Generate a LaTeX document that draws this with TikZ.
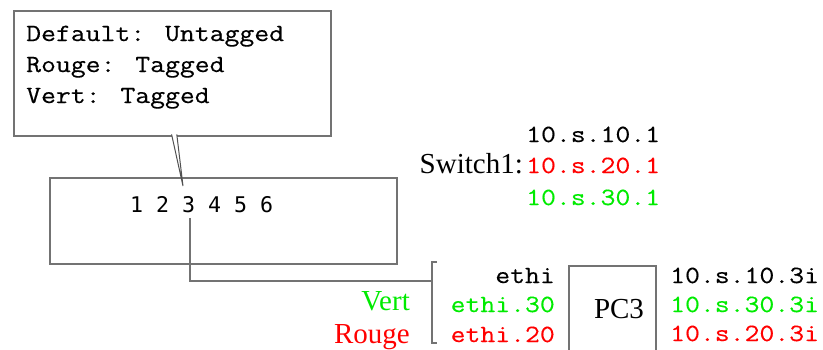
\documentclass[tikz,border=0pt]{standalone}
\usepackage{fontspec}
\setmainfont{Liberation Serif}
\newfontfamily\cour[FakeStretch=1.165,FakeBold=0.35]{Latin Modern Mono}
\newfontfamily\dmono{DejaVu Sans Mono}
\definecolor{vred}{RGB}{255,0,0}
\definecolor{vgreen}{RGB}{0,235,0}
\definecolor{edge}{RGB}{115,115,115}
\begin{document}
\begin{tikzpicture}[x=1pt,y=-1pt,
  mono/.style={font=\cour\fontsize{24.8}{31}\selectfont, inner sep=0pt},
  serif/.style={font=\fontsize{29}{34}\selectfont, inner sep=0pt},
  box/.style={draw=edge, line width=1.5pt, inner sep=0pt},
  wire/.style={draw=edge, line width=1.4pt}]
\useasboundingbox (0,0) rectangle (823,349);

% callout with VLAN modes of port 3
\node[box, fill=white, minimum width=317, minimum height=125, anchor=north west] (callout) at (13,10) {};
\node[mono, anchor=base west] (deflt) at (26,41) {Default: Untagged};
\node[mono, anchor=base west] (rouge) at (26,72) {Rouge: Tagged};
\node[mono, anchor=base west] (vert) at (26,103) {Vert: Tagged};

% switch body
\node[box, minimum width=347, minimum height=86, anchor=north west] (switch) at (49,177) {};
\node[font=\dmono\fontsize{21.6}{26}\selectfont, inner sep=0pt, anchor=base west] (ports) at (130,212) {1 2 3 4 5 6};
\coordinate (p3) at (190,218);

% callout pointer towards port 3
\coordinate (tip) at (183,186);
\coordinate (pl) at (171.6,134.4);
\coordinate (pr) at (176.8,134.4);
\fill[white] (pl) -- (tip) -- (pr) -- cycle;
\draw[edge!70!black, line width=1pt] (pl) -- (tip) -- (pr);

% switch addresses
\node[serif, anchor=base east] (swlbl) at (523,173) {Switch1:};
\node[mono, anchor=base west] (sw10) at (526,142) {10.s.10.1};
\node[mono, anchor=base west, text=vred] (sw20) at (526,173) {10.s.20.1};
\node[mono, anchor=base west, text=vgreen] (sw30) at (526,205) {10.s.30.1};

% cable from port 3 to the interface bracket
\coordinate (brk) at (432,281);
\draw[wire] (p3) |- (brk);
\draw[wire] (437,262) -- (432,262) -- (432,343) -- (437,343);

% VLAN names
\node[serif, anchor=base east, text=vgreen] (vertlbl) at (410,310) {Vert};
\node[serif, anchor=base east, text=vred] (rougelbl) at (410,343) {Rouge};

% PC3 interfaces
\node[mono, anchor=base east] (eth) at (555,283) {ethi};
\node[mono, anchor=base east, text=vgreen] (eth30) at (555,312) {ethi.30};
\node[mono, anchor=base east, text=vred] (eth20) at (555,342) {ethi.20};

% PC3
\node[box, minimum width=87, minimum height=100, anchor=north west] (pc3) at (568,265) {};
\node[serif, anchor=base] (pc3lbl) at (619,318) {PC3};

% PC3 addresses
\node[mono, anchor=base west] (pc10) at (670,283) {10.s.10.3i};
\node[mono, anchor=base west, text=vgreen] (pc30) at (670,312) {10.s.30.3i};
\node[mono, anchor=base west, text=vred] (pc20) at (670,341) {10.s.20.3i};
\end{tikzpicture}
\end{document}
